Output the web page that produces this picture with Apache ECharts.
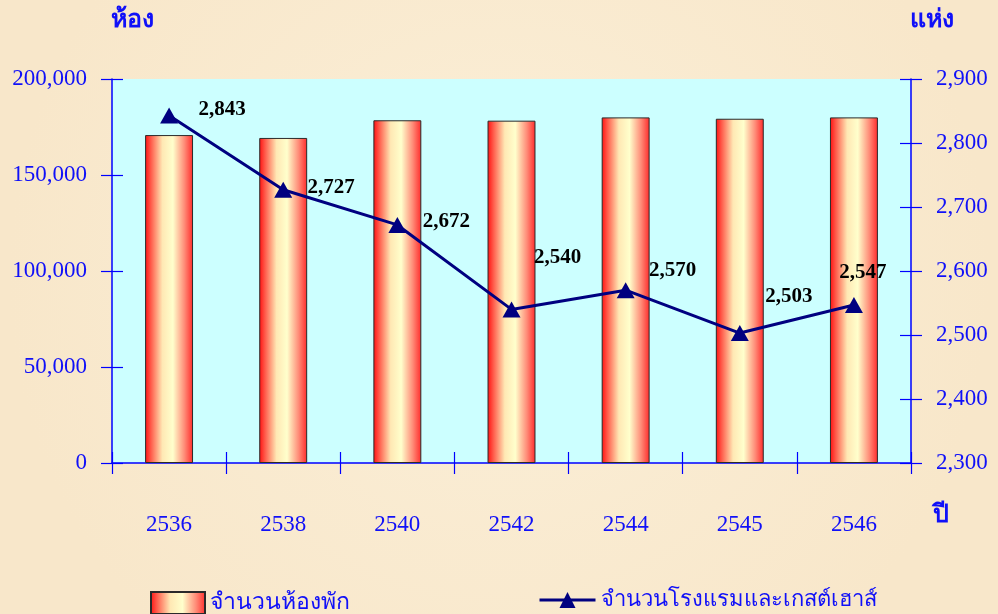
<!DOCTYPE html>
<html lang="th">
<head>
    <meta charset="UTF-8">
    <title>ห้องพัก และ โรงแรม</title>
    <style>
        html, body { margin: 0; padding: 0; }
        #main { width: 998px; height: 614px; }
    </style>
</head>
<body>
<div id="main"></div>
<script src="https://cdn.jsdelivr.net/npm/echarts@6/dist/echarts.min.js"></script>
<script>
    // ปี พ.ศ.
    var years = ['2536', '2538', '2540', '2542', '2544', '2545', '2546'];
    // จำนวนห้องพัก (แกนซ้าย)
    var rooms = [170800, 169300, 178500, 178300, 180000, 179300, 180000];
    // จำนวนโรงแรมและเกสต์เฮาส์ (แกนขวา)
    var hotels = [2843, 2727, 2672, 2540, 2570, 2503, 2547];
    var leftTicks = [0, 200000, 50000];
    var rightTicks = [2300, 2900, 100];

    // label placement for each point (px from marker)
    var labelOffsets = [[53, -6], [48, -2], [49, -3], [46, -52], [47, -20], [49, -37], [9, -32]];

    var blue = '#1010F8';
    var serif = '"Liberation Serif", "Times New Roman", serif';

    function fmt(v) {
        return v.toLocaleString('en-US');
    }

    function barGradient() {
        return new echarts.graphic.LinearGradient(0, 0, 1, 0, [
            {offset: 0, color: '#FF0F0F'},
            {offset: 0.12, color: '#FF5A4A'},
            {offset: 0.36, color: '#FFE8B4'},
            {offset: 0.58, color: '#FFFFCC'},
            {offset: 0.82, color: '#FF8C78'},
            {offset: 1, color: '#FF2A2A'}
        ]);
    }

    var lineData = [];
    for (var i in hotels) {
        lineData.push({
            value: hotels[i],
            label: {offset: labelOffsets[i]}
        });
    }

    function yAx(pos, range, inside, main) {
        return {
            type: 'value',
            position: pos,
            min: range[0],
            max: range[1],
            interval: range[2],
            axisLine: {show: main, lineStyle: {color: '#0000FF', width: 1.5}},
            axisTick: {show: true, inside: inside, length: 11, lineStyle: {color: '#0000FF', width: 1.2}},
            axisLabel: {
                show: main,
                margin: 25,
                color: blue,
                fontFamily: serif,
                fontSize: 23,
                formatter: fmt
            },
            splitLine: {show: false}
        };
    }

    var myChart = echarts.init(document.getElementById('main'));
    var option = {
        backgroundColor: new echarts.graphic.RadialGradient(0.5, 0.45, 0.8, [
            {offset: 0, color: '#FBEFD8'},
            {offset: 1, color: '#F8E7CA'}
        ]),
        animation: false,
        title: [
            {text: 'ห้อง', left: 106, top: 3, textStyle: {color: blue, fontSize: 25, fontWeight: 'bold', fontFamily: serif}},
            {text: 'แห่ง', left: 905, top: 3, textStyle: {color: blue, fontSize: 25, fontWeight: 'bold', fontFamily: serif}},
            {text: 'ปี', left: 928, top: 498, textStyle: {color: blue, fontSize: 25, fontWeight: 'bold', fontFamily: serif}}
        ],
        grid: {
            left: 112,
            right: 87,
            top: 79,
            bottom: 151,
            show: true,
            backgroundColor: '#CCFFFF',
            borderWidth: 0
        },
        legend: [
            {
                data: [{name: 'จำนวนห้องพัก', icon: 'rect'}],
                left: 145,
                top: 586,
                itemWidth: 54,
                itemHeight: 22,
                itemGap: 8,
                textStyle: {color: blue, fontSize: 23, fontFamily: serif}
            },
            {
                data: ['จำนวนโรงแรมและเกสต์เฮาส์'],
                left: 533,
                top: 584,
                itemWidth: 56,
                itemHeight: 20,
                lineStyle: {width: 3},
                textStyle: {color: blue, fontSize: 22, fontFamily: serif}
            }
        ],
        xAxis: [
            {
                type: 'category',
                data: years,
                axisLine: {lineStyle: {color: '#0000FF', width: 1.5}},
                axisTick: {show: true, inside: false, length: 11, lineStyle: {color: '#0000FF', width: 1.2}},
                axisLabel: {margin: 50, color: blue, fontFamily: serif, fontSize: 23}
            },
            {
                type: 'category',
                data: years,
                position: 'bottom',
                axisLine: {show: false},
                axisTick: {show: true, inside: true, length: 11, lineStyle: {color: '#0000FF', width: 1.2}},
                axisLabel: {show: false}
            }
        ],
        yAxis: [
            yAx('left', leftTicks, false, true),
            yAx('right', rightTicks, false, true),
            yAx('left', leftTicks, true, false),
            yAx('right', rightTicks, true, false)
        ],
        series: [
            {
                name: 'จำนวนห้องพัก',
                type: 'bar',
                yAxisIndex: 0,
                barWidth: '42%',
                data: rooms,
                itemStyle: {
                    color: barGradient(),
                    borderColor: '#2A2A2A',
                    borderWidth: 1
                }
            },
            {
                name: 'จำนวนโรงแรมและเกสต์เฮาส์',
                type: 'line',
                yAxisIndex: 1,
                data: lineData,
                symbol: 'triangle',
                symbolSize: [18, 16],
                lineStyle: {color: '#000080', width: 3},
                itemStyle: {color: '#000080'},
                label: {
                    show: true,
                    position: 'inside',
                    color: '#000000',
                    fontFamily: serif,
                    fontWeight: 'bold',
                    fontSize: 21,
                    formatter: function (p) { return fmt(p.value); }
                }
            }
        ]
    };

    myChart.setOption(option);
</script>
</body>
</html>
